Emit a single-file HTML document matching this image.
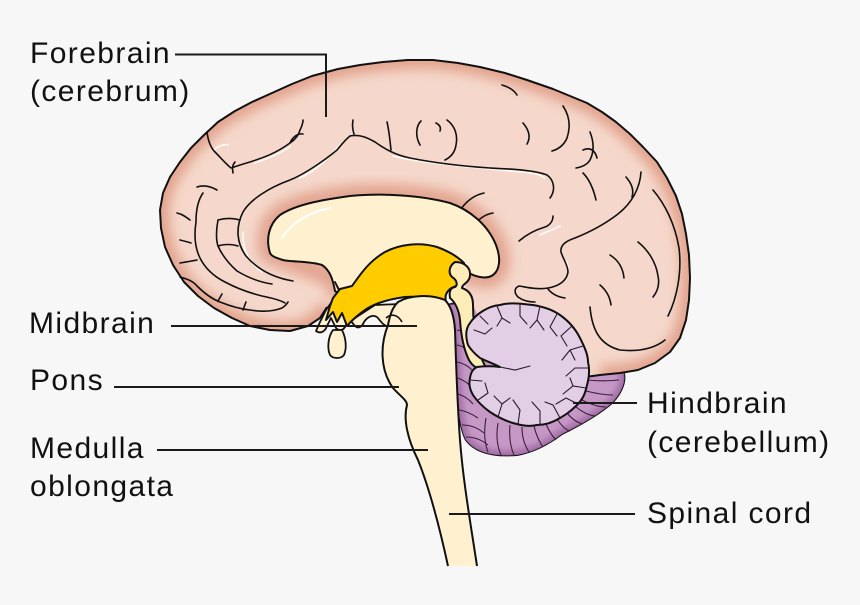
<!DOCTYPE html>
<html><head><meta charset="utf-8"><style>
html,body{margin:0;padding:0;background:#f7f7f7;}
svg{display:block;}
text{font-family:"Liberation Sans",Arial,sans-serif;font-size:30px;letter-spacing:1.4px;fill:#111;}
</style></head><body>
<svg width="860" height="605" viewBox="0 0 860 605" xmlns="http://www.w3.org/2000/svg">
<defs>
<filter id="bl" x="-20%" y="-20%" width="140%" height="140%"><feGaussianBlur stdDeviation="6"/></filter>
<filter id="bl2" x="-20%" y="-20%" width="140%" height="140%"><feGaussianBlur stdDeviation="3"/></filter>
<clipPath id="cerc"><path id="cerfill" d="M327,307 L320,318 L308,326 L290,331 L270,330 L250,326 L232,318 L214,308 L198,296 L184,282 L173,265 L165,247 L161,228 L160,210 L163,193 L170,177 L180,162 L191,148 L204,135 L218,122 L235,111 L252,102 L272,93 L292,84 L312,76 L338,69 L360,65 L383,62 L408,60 L433,60 L458,63 L480,67 L505,73 L527,80 L553,89 L570,96 L587,103 L602,112 L616,122 L630,134 L643,147 L657,162 L667,178 L676,196 L682,214 L686,234 L689,255 L690,278 L689,300 L686,320 L680,338 L670,352 L655,363 L638,370 L620,373 L600,375 L570,378 L520,360 L480,320 L468,295 L460,270 L420,250 L360,270 L340,290 Z"/></clipPath>
<clipPath id="purc"><path d="M447,305 C452,310 455,330 456,360 C457,395 458,425 466,440 C475,452 492,457 517,455 C535,452 550,443 562,434 C580,425 600,414 613,402 C622,392 627,380 623,370 L590,360 L500,330 L470,300 Z"/></clipPath>
</defs>
<rect width="860" height="605" fill="#f7f7f7"/>

<!-- dark purple cerebellum -->
<path d="M447,305 C452,310 455,330 456,360 C457,395 458,425 466,440 C475,452 492,457 517,455 C535,452 550,443 562,434 C580,425 600,414 613,402 C622,392 627,380 623,370 L590,360 L500,330 L470,300 Z" fill="#c598c6" stroke="#111" stroke-width="2"/>
<g clip-path="url(#purc)">
<path d="M447,305 C452,310 455,330 456,360 C457,395 458,425 466,440 C475,452 492,457 517,455 C535,452 550,443 562,434 C580,425 600,414 613,402 C622,392 627,380 623,370" fill="none" stroke="#a66fa8" stroke-width="10" filter="url(#bl2)"/>
</g>
<g fill="none" stroke="#3a1f3a" stroke-width="1.1">
<path d="M457,330 C463,331 468,334 470,338"/>
<path d="M457,345 C463,346 468,350 470,354"/>
<path d="M457,362 C463,363 468,366 472,370"/>
<path d="M458,378 C463,380 468,383 471,387"/>
<path d="M458,394 C464,396 469,399 473,404"/>
<path d="M459,410 C466,411 472,414 478,418"/>
<path d="M462,425 C470,425 478,428 484,433"/>
<path d="M466,437 C474,437 482,440 488,445"/>
<path d="M486,418 C484,430 484,442 488,452"/>
<path d="M498,423 C496,435 497,446 501,455"/>
<path d="M510,425 C509,436 510,446 514,455"/>
<path d="M522,427 C522,437 525,446 529,452"/>
<path d="M534,426 C536,435 540,443 543,447"/>
<path d="M546,424 C549,431 553,437 556,440"/>
<path d="M557,419 C561,425 566,430 570,431"/>
<path d="M567,413 C572,419 578,423 583,424"/>
<path d="M576,407 C582,412 590,416 596,416"/>
<path d="M582,400 C590,404 598,407 606,407"/>
<path d="M586,391 C594,393 604,395 613,395"/>
<path d="M588,380 C597,381 608,381 619,380"/>
</g>

<!-- cerebrum -->
<use href="#cerfill" fill="#f5d8cb"/>
<g clip-path="url(#cerc)">
<path d="M327,307 L320,318 L308,326 L290,331 L270,330 L250,326 L232,318 L214,308 L198,296 L184,282 L173,265 L165,247 L161,228 L160,210 L163,193 L170,177 L180,162 L191,148 L204,135 L218,122 L235,111 L252,102 L272,93 L292,84 L312,76 L338,69 L360,65 L383,62 L408,60 L433,60 L458,63 L480,67 L505,73 L527,80 L553,89 L570,96 L587,103 L602,112 L616,122 L630,134 L643,147 L657,162 L667,178 L676,196 L682,214 L686,234 L689,255 L690,278 L689,300 L686,320 L680,338 L670,352 L655,363 L638,370 L620,373 L600,375" fill="none" stroke="#e2a28c" stroke-width="18" filter="url(#bl)"/>
<path d="M270,253 C266,240 268,225 280,215 C295,205 320,200 350,196 C380,193 420,195 450,203 C470,210 488,225 496,245 C501,258 500,270 493,275 C486,280 472,277 462,268 L453,256 L420,250 L340,290 L330,275 Z" fill="none" stroke="#e3a591" stroke-width="22" filter="url(#bl)"/>
</g>
<path d="M327,307 L320,318 L308,326 L290,331 L270,330 L250,326 L232,318 L214,308 L198,296 L184,282 L173,265 L165,247 L161,228 L160,210 L163,193 L170,177 L180,162 L191,148 L204,135 L218,122 L235,111 L252,102 L272,93 L292,84 L312,76 L338,69 L360,65 L383,62 L408,60 L433,60 L458,63 L480,67 L505,73 L527,80 L553,89 L570,96 L587,103 L602,112 L616,122 L630,134 L643,147 L657,162 L667,178 L676,196 L682,214 L686,234 L689,255 L690,278 L689,300 L686,320 L680,338 L670,352 L655,363 L638,370 L620,373 L600,375 L585,377" fill="none" stroke="#111" stroke-width="2" stroke-linejoin="round"/>

<!-- sulci highlights -->
<g fill="none" stroke="#ffffff" stroke-width="1.6" stroke-linecap="round" opacity="0.9">
<path d="M262,272 C248,262 242,248 243,232"/>
<path d="M393,156 C420,163 470,167 510,171 C525,172 538,173 545,178"/>
<path d="M300,178 C318,170 330,156 340,145"/>
<path d="M214,150 C218,146 224,144 228,145"/>
<path d="M255,163 C270,158 282,152 290,147"/>
<path d="M540,235 C548,231 555,229 560,226"/>
<path d="M567,262 C569,270 568,276 565,280"/>
</g>
<!-- sulci -->
<g fill="none" stroke="#111" stroke-width="1.6" stroke-linecap="round" stroke-linejoin="round">
<path d="M293,281 C275,278 258,270 246,256 C237,244 235,228 243,212 C250,200 268,188 290,180 C305,174 325,160 337,150 C342,144 345,140 350,136 C360,134 368,138 375,142 C385,149 395,155 410,158 C430,162 460,166 490,168 C510,169 535,170 547,175 C554,180 556,190 550,198"/>
<path d="M207,132 C208,140 210,147 215,152 C221,158 226,164 231,168 C237,166 243,164 250,162 C262,158 275,154 290,143 C296,139 299,134 300,130 C302,126 303,123 303,120"/>
<path d="M233,173 C232,168 233,164 235,162"/>
<path d="M290,143 C292,138 297,133 303,134"/>
<path d="M203,193 C198,200 196,210 196,222 C194,235 195,248 200,258 C205,268 213,276 225,282 C238,289 250,293 262,296 C272,298 280,300 285,303"/>
<path d="M197,187 C203,185 210,186 217,190"/>
<path d="M240,220 C233,218 225,218 218,220 C216,230 216,240 218,246 C222,255 228,263 237,271 C247,277 258,282 272,284"/>
<path d="M218,246 C224,244 232,244 238,246"/>
<path d="M180,277 C187,279 193,281 197,286 C205,294 212,299 220,302 C230,306 240,309 250,310 C262,312 272,312 282,308 C285,306 287,304 288,302"/>
<path d="M177,213 C182,214 186,217 190,220"/>
<path d="M180,240 C184,241 188,242 191,243"/>
<path d="M180,263 C186,262 192,261 197,260"/>
<path d="M243,310 L246,302"/>
<path d="M218,301 L222,294"/>
<path d="M353,120 C352,126 353,131 354,134"/>
<path d="M387,122 C389,130 390,140 391,150"/>
<path d="M421,121 C416,126 415,136 420,145"/>
<path d="M436,123 C440,125 441,128 440,131"/>
<path d="M447,120 C455,126 458,135 456,145 C455,152 451,157 445,160"/>
<path d="M502,85 C509,87 514,90 517,95"/>
<path d="M523,123 C529,130 531,137 527,144"/>
<path d="M563,106 C569,115 571,126 567,138 C564,145 559,149 552,151"/>
<path d="M590,132 C594,142 594,152 590,160 C587,165 582,167 576,168"/>
<path d="M626,177 C632,184 634,190 632,197"/>
<path d="M583,173 C589,179 593,187 596,200"/>
<path d="M583,150 C590,147 595,150 597,158"/>
<path d="M459,212 C465,202 474,195 484,193"/>
<path d="M476,223 C481,217 487,214 493,213"/>
<path d="M641,172 C640,188 632,203 618,214 C605,224 590,232 575,238 C566,241 560,245 561,252 C563,259 568,265 568,272 C567,280 560,286 548,288 C537,290 526,287 519,286 C514,288 514,293 518,297 C522,300 528,302 535,302"/>
<path d="M519,241 C526,235 535,230 545,227 C550,225 553,221 553,216"/>
<path d="M548,289 C552,294 558,297 565,298"/>
<path d="M653,190 C665,204 675,224 679,248 C682,272 677,298 668,316"/>
<path d="M638,242 C648,250 656,262 658,276 C660,285 657,292 653,297"/>
<path d="M590,307 C592,330 600,345 620,350 C640,352 655,348 665,340"/>
<path d="M610,255 C618,260 623,268 624,278"/>
<path d="M600,285 C606,290 610,297 611,305"/>
</g>

<!-- corpus callosum -->
<path d="M270,253 C266,240 268,225 280,215 C295,205 320,200 350,196 C380,193 420,195 450,203 C470,210 488,225 496,245 C501,258 500,270 493,275 C486,280 472,277 462,268 L455,276 L420,272 L370,292 L343,296 L335,291 C333,280 330,270 322,265 C310,261 290,262 283,260 C277,258 272,257 270,253 Z" fill="#fff1cf" stroke="#111" stroke-width="2" stroke-linejoin="round"/>
<path d="M282,238 C292,222 310,212 330,208" fill="none" stroke="#ffffff" stroke-width="2" stroke-linecap="round"/>

<!-- hypothalamus wiggles (behind gold) -->
<path d="M335,282 C338,288 340,292 343,296 L333,300 L326,310 L320,322 L316,331 C320,334 325,332 327,326 L331,318 L336,328 C340,332 344,330 346,325 L350,320 L355,326 C358,329 362,327 364,322 C368,316 374,314 378,318 C381,322 384,326 388,326 L392,316 C396,314 400,320 404,323 L410,318 L400,304 L375,305 L355,318 L345,303 Z" fill="#fff1cf" stroke="#111" stroke-width="1.8" stroke-linejoin="round"/>
<path d="M333,330 C328,337 327,348 330,355 C333,359 341,359 344,355 C347,348 346,338 342,330 Z" fill="#fff1cf" stroke="#111" stroke-width="1.8"/>

<!-- gold thalamus -->
<path d="M333,298 L340,289 L352,286 C360,275 368,262 385,252 C400,244 420,242 437,247 C448,251 458,257 464,263 C456,263 450,266 452,271 C455,275 462,276 461,282 C459,287 452,286 449,290 C446,293 444,296 447,307 C435,299 420,296 405,297 C390,299 375,303 365,310 C358,315 352,320 347,326 L342,313 L337,322 L333,312 L326,320 L330,306 Z" fill="#ffcc00" stroke="#111" stroke-width="2" stroke-linejoin="round"/>

<!-- tectum strip -->
<path d="M455,262 C465,262 471,268 470,276 C469,283 462,284 462,288 C468,290 473,295 473,305 C473,320 475,335 478,348 C480,356 483,362 486,368 C479,370 473,367 469,360 C464,350 461,335 460,320 C459,310 455,302 450,298 C449,292 450,288 455,287 C458,285 457,280 452,277 C448,273 449,266 455,262 Z" fill="#fcecb8" stroke="#111" stroke-width="2" stroke-linejoin="round"/>

<!-- light purple cerebellum -->
<path d="M468,345 C465,335 466,328 470,323 C476,314 488,306 500,305 C510,302 522,304 533,305 C545,307 553,310 560,315 C570,322 576,330 580,338 C585,348 588,355 588,362 C590,370 589,378 587,385 C585,395 582,400 577,405 C570,412 565,415 560,418 C552,423 545,425 537,425 C528,427 520,425 513,423 C503,420 496,416 490,412 C483,407 477,401 473,395 C469,388 469,383 470,378 C471,372 473,369 477,367 C485,366 492,366 500,367 C492,363 486,361 480,358 C475,354 471,350 468,345 Z" fill="#e2cfe5" stroke="#111" stroke-width="2" stroke-linejoin="round"/>
<g fill="none" stroke="#2a1a2a" stroke-width="1.1" stroke-linecap="round">
<path d="M497,306 L502,318 L497,326 M502,318 L510,323"/>
<path d="M520,304 L520,316 L527,324"/>
<path d="M540,306 L537,320 L544,330 M537,320 L530,328"/>
<path d="M557,314 L550,327 L557,336"/>
<path d="M572,326 L561,336 L567,346"/>
<path d="M583,346 L570,350 L562,360 M570,350 L575,360"/>
<path d="M588,368 L575,368 L566,376"/>
<path d="M586,388 L573,386 L563,394 M573,386 L570,378"/>
<path d="M578,404 L566,398 L556,404"/>
<path d="M560,418 L553,405 L545,402"/>
<path d="M540,425 L540,411 L532,402"/>
<path d="M518,424 L520,410 L513,400"/>
<path d="M498,417 L502,404 L494,396 M502,404 L510,398"/>
<path d="M478,400 L488,393 L485,383"/>
<path d="M470,380 L482,381"/>
<path d="M474,330 L485,334 L492,328"/>
<path d="M480,316 L488,324"/>
<path d="M500,367 L515,370 L530,366"/>
</g>

<!-- brainstem -->
<path d="M388,325 C380,345 380,370 393,388 C400,396 407,400 407,405 C403,420 408,440 418,460 C428,485 438,520 448,566 L477,566 C470,520 463,480 460,440 C457,400 456,360 455,330 C454,315 450,305 445,300 C430,294 410,295 398,302 C392,308 390,315 388,325 Z" fill="#fff1cf"/>
<path d="M448,566 C438,520 428,485 418,460 C408,440 403,420 407,405 C407,400 400,396 393,388 C380,370 380,345 388,325 C390,315 392,308 398,302 C410,295 430,294 445,300 C450,305 454,315 455,330 C456,360 457,400 460,440 C463,480 470,520 477,566" fill="none" stroke="#111" stroke-width="2" stroke-linejoin="round"/>
<path d="M386,318 C392,313 398,315 402,322" fill="none" stroke="#111" stroke-width="1.6"/>

<!-- leader lines -->
<g fill="none" stroke="#1a1a1a" stroke-width="2">
<path d="M175,54.5 H326 V117"/>
<path d="M171,326 H417"/>
<path d="M114,387 H399"/>
<path d="M157,450 H428"/>
<path d="M573,403 H637"/>
<path d="M449,514 H635"/>
</g>

<!-- labels -->
<text x="30" y="63">Forebrain</text>
<text x="30" y="101">(cerebrum)</text>
<text x="29" y="333">Midbrain</text>
<text x="30" y="390">Pons</text>
<text x="30" y="458">Medulla</text>
<text x="30" y="496">oblongata</text>
<text x="647" y="413">Hindbrain</text>
<text x="647" y="452">(cerebellum)</text>
<text x="647" y="523">Spinal cord</text>
</svg>
</body></html>
